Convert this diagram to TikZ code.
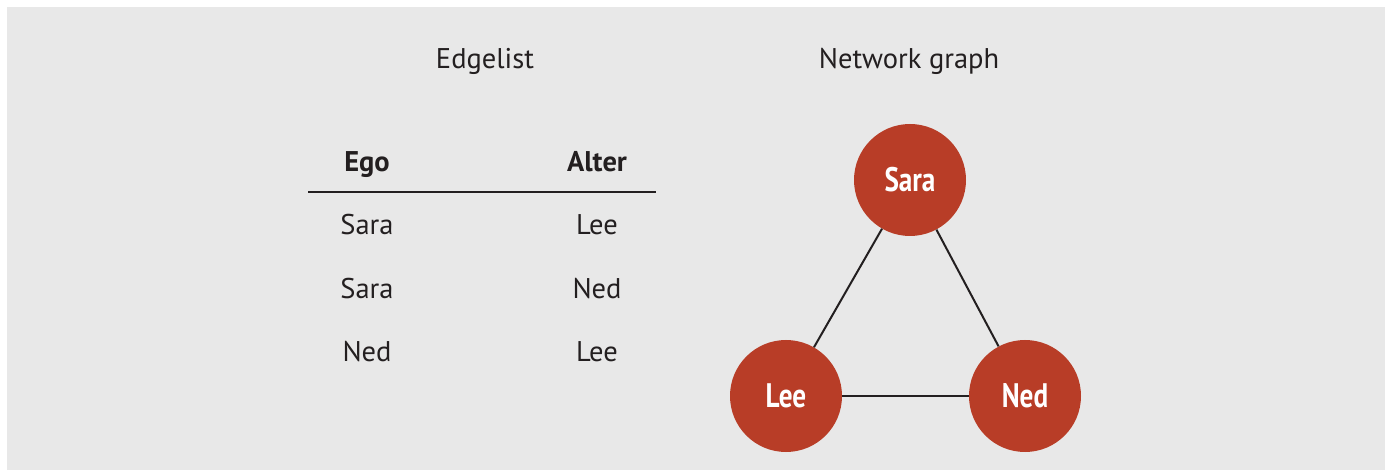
\documentclass[tikz,border=0pt]{standalone}
\usepackage{fontspec}
\setmainfont{PT Sans}
\newfontfamily\condfont[FakeStretch=0.8]{PT Sans}
\definecolor{bg}{HTML}{E8E8E8}
\definecolor{nodered}{HTML}{B83D27}
\definecolor{ink}{HTML}{231F20}
\begin{document}
\begin{tikzpicture}[x=1pt,y=-1pt,
  title/.style={font=\fontsize{28.5}{31}\selectfont, text=ink, anchor=base},
  cell/.style={font=\fontsize{28.5}{31}\selectfont, text=ink, anchor=base},
  head/.style={font=\fontsize{28.5}{31}\selectfont\bfseries, text=ink, anchor=base},
  person/.style={circle, fill=nodered, minimum size=112pt, inner sep=0pt, text=white,
    font=\condfont\fontsize{34}{36}\selectfont\bfseries},
  edge/.style={draw=ink, line width=2pt}]
\useasboundingbox (0,0) rectangle (1385,470);
\fill[bg] (7,7) rectangle (1385,470);
\node[title] (t1) at (485,69) {Edgelist};
\node[title] (t2) at (909,69) {Network graph};
\node[head] (h1) at (367,172) {Ego};
\node[head] (h2) at (597,172) {Alter};
\coordinate (ls) at (308,192);
\coordinate (le) at (656,192);
\draw[edge] (ls) -- (le);
\node[cell] (r1a) at (367,235) {Sara};
\node[cell] (r1b) at (597,235) {Lee};
\node[cell] (r2a) at (367,299) {Sara};
\node[cell] (r2b) at (597,299) {Ned};
\node[cell] (r3a) at (367,362) {Ned};
\node[cell] (r3b) at (597,362) {Lee};
\node[person] (sara) at (910,180) {Sara};
\node[person] (lee) at (786,396) {Lee};
\node[person] (ned) at (1025,396) {Ned};
\draw[edge] (sara) -- (lee);
\draw[edge] (sara) -- (ned);
\draw[edge] (lee) -- (ned);
\end{tikzpicture}
\end{document}
